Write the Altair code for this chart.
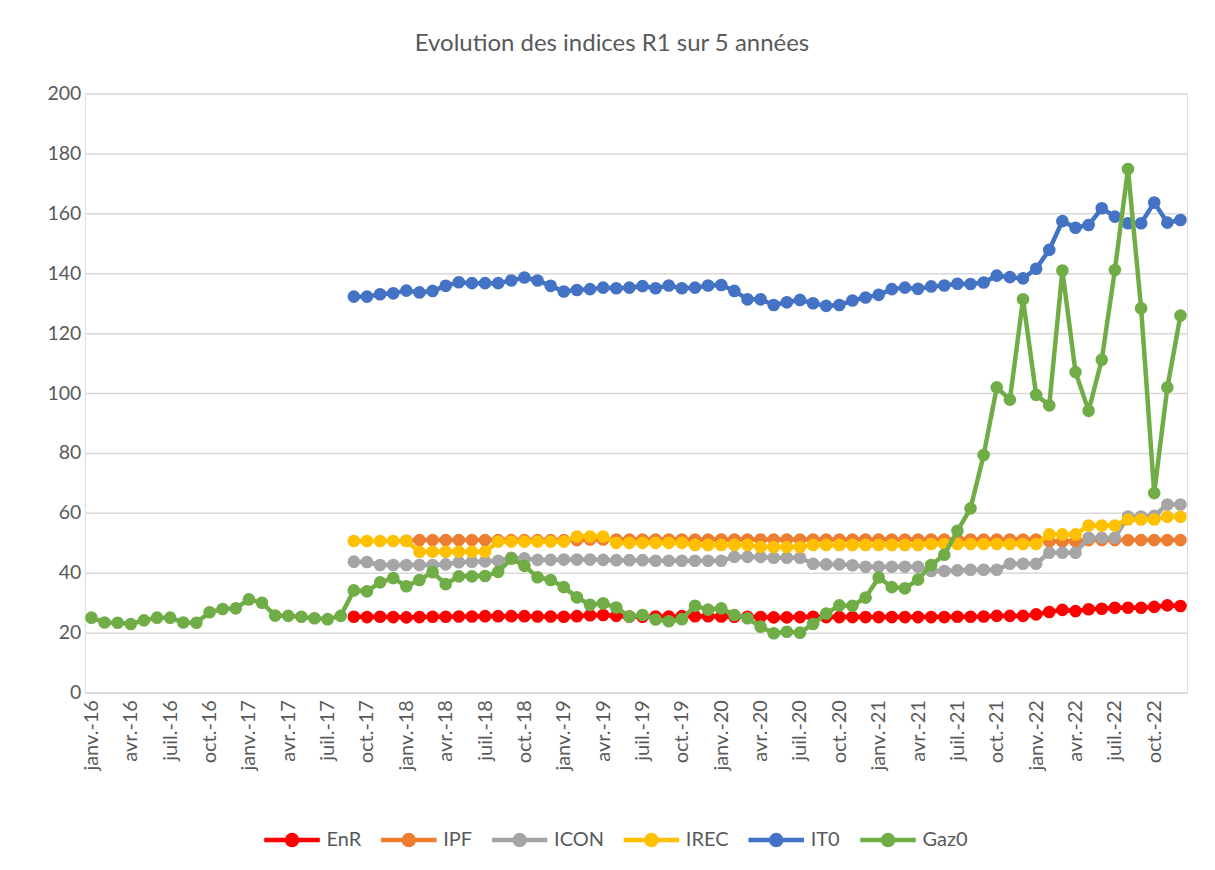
import altair as alt
import pandas as pd

# ---- categories (monthly, janv.-16 .. déc.-22) ----
mois = ["janv.", "févr.", "mars", "avr.", "mai", "juin",
        "juil.", "août", "sept.", "oct.", "nov.", "déc."]
annees = ["16", "17", "18", "19", "20", "21", "22"]
categories = [f"{m}-{a}" for a in annees for m in mois]
tick_labels = categories[::3]
y_ticks = [0, 20, 40, 60, 80, 100, 120, 140, 160, 180, 200]

series_names = ["EnR", "IPF", "ICON", "IREC", "IT0", "Gaz0"]
series_colors = ["#FF0000", "#ED7D31", "#A5A5A5", "#FFC000", "#4472C4", "#70AD47"]

# ---- values ----
enr = [None] * 20 + [
    25.3, 25.2, 25.3, 25.2, 25.1, 25.2, 25.3, 25.3, 25.4, 25.4, 25.5, 25.5,
    25.5, 25.5, 25.4, 25.4, 25.3, 25.5, 25.8, 25.9, 25.6, 25.4, 25.3, 25.4,
    25.4, 25.5, 25.5, 25.5, 25.4, 25.3, 25.3, 25.2, 25.1, 25.1, 25.2, 25.3,
    25.2, 25.2, 25.2, 25.2, 25.2, 25.2, 25.2, 25.2, 25.2, 25.2, 25.3, 25.3,
    25.4, 25.6, 25.6, 25.6, 26.1, 26.9, 27.6, 27.2, 27.8, 28.0, 28.3, 28.3,
    28.3, 28.6, 29.1, 28.9]

ipf = [None] * 24 + [
    50.7, 50.9, 50.9, 50.9, 50.9, 50.9, 50.9, 50.9, 50.9, 50.9, 50.9, 50.9,
    50.9, 50.9, 51.1, 51.1, 51.1, 51.1, 51.1, 51.1, 51.1, 51.1, 51.1, 51.1,
    51.1, 51.1, 51.1, 51.1, 51.1, 51.1, 51.1, 51.1, 51.1, 51.1, 51.1, 51.1,
    51.1, 51.1, 51.1, 51.1, 51.1, 51.1, 51.1, 51.1, 51.1, 51.1, 51.1, 51.1,
    51.1, 50.5, 50.5, 50.5, 50.9, 50.9, 50.9, 50.9, 50.9, 50.9, 50.9, 50.9]

icon = [None] * 20 + [
    43.7, 43.6, 42.6, 42.6, 42.6, 42.6, 42.6, 42.8, 43.5, 43.7, 43.8, 44.0,
    45.0, 44.8, 44.3, 44.3, 44.4, 44.4, 44.4, 44.3, 44.2, 44.2, 44.2, 44.0,
    44.0, 44.0, 44.0, 44.0, 44.0, 45.3, 45.3, 45.3, 45.0, 45.0, 45.0, 43.0,
    42.8, 42.8, 42.5, 42.0, 42.0, 42.0, 42.0, 42.0, 40.6, 40.6, 40.8, 41.0,
    41.0, 41.0, 43.0, 43.0, 43.0, 46.7, 46.7, 46.7, 51.7, 51.7, 51.7, 58.8,
    58.8, 59.0, 62.8, 62.8]

irec = [None] * 20 + [
    50.6, 50.6, 50.6, 50.6, 50.6, 47.0, 47.0, 47.0, 47.0, 47.0, 47.0, 50.4,
    50.4, 50.4, 50.4, 50.4, 50.4, 52.1, 52.1, 52.1, 50.0, 50.0, 50.0, 50.0,
    50.0, 50.0, 49.3, 49.3, 49.3, 49.3, 49.3, 48.6, 48.6, 48.6, 48.6, 49.3,
    49.3, 49.3, 49.3, 49.3, 49.3, 49.3, 49.3, 49.3, 49.6, 49.6, 49.6, 49.6,
    49.6, 49.6, 49.6, 49.6, 49.6, 52.8, 52.8, 52.8, 55.8, 55.8, 55.8, 57.8,
    57.8, 57.8, 58.7, 58.7]

it0 = [None] * 20 + [
    132.2, 132.2, 133.0, 133.3, 134.2, 133.6, 134.1, 135.8, 137.0, 136.7,
    136.7, 136.7, 137.6, 138.6, 137.6, 135.8, 133.9, 134.4, 134.7, 135.2,
    135.0, 135.2, 135.7, 135.0, 135.9, 135.0, 135.2, 135.9, 136.1, 134.1,
    131.3, 131.3, 129.4, 130.3, 131.1, 130.0, 129.1, 129.4, 130.9, 131.9,
    132.8, 134.7, 135.2, 134.8, 135.6, 135.9, 136.5, 136.4, 136.9, 139.2,
    138.7, 138.3, 141.5, 147.8, 157.4, 155.2, 156.1, 161.7, 158.9, 156.7,
    156.7, 163.6, 156.9, 157.8]

gaz0 = [
    25.0, 23.4, 23.3, 22.9, 24.1, 25.0, 25.0, 23.4, 23.3, 26.8, 27.9, 28.1,
    31.1, 30.0, 25.7, 25.6, 25.3, 24.8, 24.5, 25.6, 34.1, 33.8, 36.8, 38.2,
    35.5, 37.6, 40.2, 36.2, 38.8, 38.8, 38.9, 40.3, 44.7, 42.3, 38.5, 37.6,
    35.2, 31.8, 29.3, 29.8, 28.4, 25.4, 25.9, 24.4, 23.8, 24.5, 29.0, 27.7,
    28.1, 25.9, 24.8, 22.0, 19.8, 20.3, 20.0, 22.9, 26.4, 29.1, 29.0, 31.7,
    38.4, 35.2, 34.8, 37.7, 42.6, 46.0, 54.0, 61.5, 79.3, 101.9, 97.8, 131.3,
    99.4, 95.9, 140.9, 107.0, 94.1, 111.1, 141.1, 174.8, 128.3, 66.6, 101.9,
    125.9]

all_values = [enr, ipf, icon, irec, it0, gaz0]

rows = []
for name, vals in zip(series_names, all_values):
    for cat, v in zip(categories, vals):
        if v is not None:
            rows.append({"mois": cat, "serie": name, "valeur": v})
df = pd.DataFrame(rows)

FONT = "Lato"
GREY = "#595959"

x_enc = alt.X(
    "mois:O",
    scale=alt.Scale(type="point", padding=0.5, domain=categories),
    axis=alt.Axis(values=tick_labels, labelAngle=-90, labelFontSize=20,
                  labelFont=FONT, labelColor=GREY, ticks=False, grid=False,
                  domainColor="#d9d9d9", domainWidth=1.5, labelPadding=7,
                  title=None),
)
y_enc = alt.Y(
    "valeur:Q",
    scale=alt.Scale(domain=[0, 200], nice=False),
    axis=alt.Axis(values=y_ticks, labelFontSize=19.5, labelFont=FONT,
                  labelColor=GREY, grid=True, gridColor="#d9d9d9",
                  gridWidth=1.5, domain=False, ticks=False, labelPadding=4,
                  title=None),
)

# legend symbol: a line with a marker disc (disc built from two stroked rings)
legend_path = ("M-1,0H1"
               "M0.18,0A0.18,0.18,0,1,1,-0.18,0A0.18,0.18,0,1,1,0.18,0Z"
               "M0.07,0A0.07,0.07,0,1,1,-0.07,0A0.07,0.07,0,1,1,0.07,0Z")
leg = alt.Legend(
    title=None, orient="none", direction="horizontal", columns=6,
    legendX=177, legendY=717, symbolType=legend_path, symbolSize=3100,
    symbolStrokeWidth=4.5, labelFont=FONT, labelFontSize=20, labelColor=GREY,
    labelOffset=4, columnPadding=10,
)
color_scale = alt.Scale(domain=series_names, range=series_colors)
stroke_enc = alt.Stroke("serie:N", scale=color_scale, legend=leg)
fill_enc = alt.Fill("serie:N", scale=color_scale, legend=None)

layers = []
for name in series_names:
    b = alt.Chart(df).transform_filter(alt.datum.serie == name)
    ln = b.mark_line(strokeWidth=4.5).encode(
        x=x_enc, y=y_enc, stroke=stroke_enc)
    pts = b.mark_circle(size=160, opacity=1).encode(
        x=x_enc, y=y_enc, fill=fill_enc)
    layers += [ln, pts]

chart = alt.layer(*layers).properties(
    width=1104,
    height=600,
    title=alt.TitleParams(
        "Evolution des indices R1 sur 5 années", fontSize=24, font=FONT,
        fontWeight="normal", color=GREY, anchor="middle", dx=-24, offset=28),
    autosize=alt.AutoSizeParams(type="none"),
    padding={"left": 77, "top": 85, "right": 20, "bottom": 160},
).configure_view(stroke=None).configure(background="white")

chart.save("out.html", embed_options={"renderer": "svg", "actions": False})
